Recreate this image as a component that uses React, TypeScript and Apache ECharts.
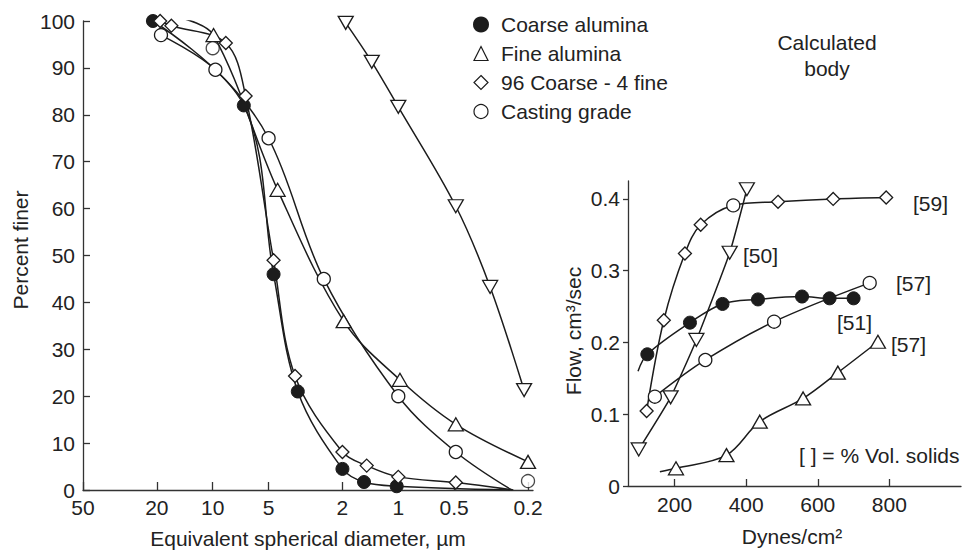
import React, { useEffect, useRef } from "react";
import * as echarts from "echarts";

// ---------- Left panel: particle size distribution ----------
const diameterTicks = [50, 20, 10, 5, 2, 1, 0.5, 0.2];
const percentTicks = [0, 10, 20, 30, 40, 50, 60, 70, 80, 90, 100];

// [diameter µm, percent finer]
const coarseAlumina = [[21, 100], [6.8, 82], [4.7, 46], [3.48, 21], [2.0, 4.5], [1.53, 1.7], [1.02, 0.8]];
const coarseAluminaEnd = [0.25, 0];
const fineAlumina = [[9.9, 97], [4.47, 64], [1.97, 36], [0.98, 23.5], [0.49, 14], [0.2, 6]];
const fineAluminaStart = [14.4, 100.5];
const mix96Coarse4Fine = [[19.2, 100], [16.7, 99], [8.5, 95.3], [6.65, 84], [4.7, 49], [3.6, 24.3], [2.0, 8.1], [1.48, 5.2], [1.0, 2.8], [0.49, 1.6]];
const mix96End = [0.24, 0];
const castingGrade = [[19, 97], [9.67, 89.6], [5.0, 75], [2.52, 45], [1.0, 20], [0.49, 8.1]];
const castingGradeEnd = [0.245, 0];
const castingGradeExtra = [[10, 94.2], [0.2, 1.9]];
const calculatedBody = [[1.92, 99.6], [1.39, 91.3], [1.0, 81.7], [0.49, 60.5], [0.32, 43.3], [0.21, 21.3]];

// ---------- Right panel: flow vs stress ----------
const flowTicks = [0, 0.1, 0.2, 0.3, 0.4];
const stressTicks = [200, 400, 600, 800];
// [dynes/cm², flow cm³/sec]
const flowMix59 = [[122, 0.1045], [170, 0.231], [229, 0.324], [273, 0.364], [364, 0.391], [489, 0.396], [643, 0.4], [791, 0.402]];
const flowMix59CircleIndex = 4;
const flowCasting57 = [[145, 0.1245], [286, 0.1756], [478, 0.229], [745, 0.283]];
const flowCoarse51 = [[124, 0.1835], [243, 0.2276], [334, 0.2537], [433, 0.26], [556, 0.264], [633, 0.2615], [700, 0.2615]];
const flowCoarse51Start = [98, 0.16];
const flowCalc50 = [[100, 0.051], [189, 0.1236], [261, 0.2035], [354, 0.325], [402, 0.4135]];
const flowFine57 = [[204, 0.0247], [345, 0.043], [438, 0.0896], [559, 0.122], [656, 0.158], [768, 0.201]];
const flowFine57Start = [159, 0.02];

const legendNames = ["Coarse alumina", "Fine alumina", "96 Coarse - 4 fine", "Casting grade"];

const INK = "#1c1c1c";
const FONT = "'Liberation Sans', Arial, Helvetica, sans-serif";
const FS = 21;

const lg = (p: number[]) => [Math.log10(p[0]), p[1]];

export default function App() {
  const ref = useRef<HTMLDivElement>(null);

  useEffect(() => {
    if (!ref.current) return;
    const chart = echarts.init(ref.current, undefined, { renderer: "svg" });

    const lineBase = {
      type: "line",
      smooth: 0.35,
      lineStyle: { color: INK, width: 1.5 },
      itemStyle: { color: "#fff", borderColor: INK, borderWidth: 1.3 },
      emphasis: { disabled: true },
      z: 3,
    };
    const noSym = (p: number[]) => ({ value: p, symbol: "none" });

    const triSize = [15, 13];
    const circSize = 13;
    const diaSize = 13;

    const series: any[] = [
      // Left panel
      {
        ...lineBase, name: legendNames[0], xAxisIndex: 0, yAxisIndex: 0,
        symbol: "circle", symbolSize: circSize,
        itemStyle: { color: INK, borderColor: INK, borderWidth: 1 },
        data: [...coarseAlumina.map(lg), noSym(lg(coarseAluminaEnd))],
      },
      {
        ...lineBase, name: legendNames[1], xAxisIndex: 0, yAxisIndex: 0,
        symbol: "triangle", symbolSize: triSize,
        data: [noSym(lg(fineAluminaStart)), ...fineAlumina.map(lg)],
      },
      {
        ...lineBase, name: legendNames[2], xAxisIndex: 0, yAxisIndex: 0,
        symbol: "diamond", symbolSize: diaSize,
        data: [...mix96Coarse4Fine.map(lg), noSym(lg(mix96End))],
      },
      {
        ...lineBase, name: legendNames[3], xAxisIndex: 0, yAxisIndex: 0,
        symbol: "circle", symbolSize: circSize,
        data: [...castingGrade.map(lg), noSym(lg(castingGradeEnd))],
      },
      {
        type: "scatter", name: legendNames[3], xAxisIndex: 0, yAxisIndex: 0,
        symbol: "circle", symbolSize: circSize,
        itemStyle: { color: "#fff", borderColor: INK, borderWidth: 1.3 },
        emphasis: { disabled: true },
        data: castingGradeExtra.map(lg), z: 4,
      },
      {
        ...lineBase, name: "Calculated body", xAxisIndex: 0, yAxisIndex: 0,
        symbol: "triangle", symbolRotate: 180, symbolSize: triSize,
        data: calculatedBody.map(lg),
      },
      // Right panel
      {
        ...lineBase, name: legendNames[2], xAxisIndex: 1, yAxisIndex: 1,
        symbol: "diamond", symbolSize: diaSize,
        data: flowMix59.map((p, i) => (i === flowMix59CircleIndex ? { value: p, symbol: "circle", symbolSize: circSize } : p)),
      },
      {
        ...lineBase, name: legendNames[3], xAxisIndex: 1, yAxisIndex: 1,
        symbol: "circle", symbolSize: circSize,
        data: flowCasting57,
      },
      {
        ...lineBase, name: legendNames[0], xAxisIndex: 1, yAxisIndex: 1,
        symbol: "circle", symbolSize: circSize,
        itemStyle: { color: INK, borderColor: INK, borderWidth: 1 },
        data: [noSym(flowCoarse51Start), ...flowCoarse51],
      },
      {
        ...lineBase, name: "Calculated body", xAxisIndex: 1, yAxisIndex: 1,
        symbol: "triangle", symbolRotate: 180, symbolSize: triSize, smooth: 0.15,
        data: flowCalc50,
      },
      {
        ...lineBase, name: legendNames[1], xAxisIndex: 1, yAxisIndex: 1,
        symbol: "triangle", symbolSize: triSize,
        data: [noSym(flowFine57Start), ...flowFine57],
      },
    ];

    const axisLine = { show: true, onZero: false, lineStyle: { color: "#333", width: 1.3 } };
    const labelStyle = { color: "#222", fontSize: FS, fontFamily: FONT };

    const text = (x: number, y: number, t: string, extra: any = {}, rotation = 0) => ({
      type: "text", x, y, rotation,
      style: { text: t, fill: "#222", font: `${FS}px ${FONT}`, ...extra },
    });

    chart.setOption({
      animation: false,
      backgroundColor: "#fff",
      textStyle: { fontFamily: FONT },
      grid: [
        { left: 83, top: 21, width: 450, height: 469, outerBoundsMode: "none", containLabel: false },
        { left: 628, top: 181, width: 333, height: 305, outerBoundsMode: "none", containLabel: false },
      ],
      xAxis: [
        {
          type: "value", gridIndex: 0, inverse: true,
          min: Math.log10(0.188), max: Math.log10(50),
          axisLine, splitLine: { show: false },
          axisTick: { show: true, inside: true, length: 8, customValues: diameterTicks.map(Math.log10), lineStyle: { color: "#333", width: 1.3 } },
          axisLabel: {
            ...labelStyle, margin: 7,
            customValues: diameterTicks.map(Math.log10),
            formatter: (v: number) => String(Number(Math.pow(10, v).toPrecision(2))),
          },
        },
        {
          type: "value", gridIndex: 1, min: 70, max: 1000,
          axisLine, splitLine: { show: false },
          axisTick: { show: true, inside: true, length: 7, customValues: stressTicks, lineStyle: { color: "#333", width: 1.3 } },
          axisLabel: { ...labelStyle, margin: 8, customValues: stressTicks },
        },
      ],
      yAxis: [
        {
          type: "value", gridIndex: 0, min: 0, max: 100,
          axisLine, splitLine: { show: false },
          axisTick: { show: true, inside: true, length: 7, customValues: percentTicks, lineStyle: { color: "#333", width: 1.3 } },
          axisLabel: { ...labelStyle, margin: 8, customValues: percentTicks },
        },
        {
          type: "value", gridIndex: 1, min: 0, max: 0.425,
          axisLine, splitLine: { show: false },
          axisTick: { show: true, inside: false, length: 5, customValues: flowTicks, lineStyle: { color: "#333", width: 1.3 } },
          axisLabel: { ...labelStyle, margin: 8, customValues: flowTicks, formatter: (v: number) => (v === 0 ? "0" : v.toFixed(1)) },
        },
      ],
      legend: {
        data: legendNames.map((n, i) => ({
          name: n,
          icon: ["circle", "triangle", "diamond", "circle"][i],
          itemStyle: i === 0 ? { color: INK, borderColor: INK } : { color: "#fff", borderColor: INK, borderWidth: 1.2 },
        })),
        orient: "vertical", left: 468, top: 9,
        itemWidth: 14, itemHeight: 14, itemGap: 8,
        selectedMode: false,
        textStyle: { color: "#222", fontSize: FS, fontFamily: FONT, lineHeight: 21, padding: [0, 0, 0, 8] },
      },
      graphic: [
        text(20, 250, "Percent finer", { align: "center", verticalAlign: "middle" }, Math.PI / 2),
        text(308, 538, "Equivalent spherical diameter, \u00b5m", { align: "center", verticalAlign: "middle" }),
        text(573, 331, "Flow, cm\u00b3/sec", { align: "center", verticalAlign: "middle" }, Math.PI / 2),
        text(792, 536, "Dynes/cm\u00b2", { align: "center", verticalAlign: "middle" }),
        text(827, 55, "Calculated\nbody", { align: "center", verticalAlign: "middle", lineHeight: 26 }),
        text(799, 455, "[ ] = % Vol. solids", { verticalAlign: "middle" }),
        text(913, 203, "[59]", { verticalAlign: "middle" }),
        text(743, 255, "[50]", { verticalAlign: "middle" }),
        text(896, 283, "[57]", { verticalAlign: "middle" }),
        text(837, 322, "[51]", { verticalAlign: "middle" }),
        text(891, 344, "[57]", { verticalAlign: "middle" }),
      ],
      series,
    });

    return () => chart.dispose();
  }, []);

  return <div ref={ref} style={{ width: 963, height: 552, position: "absolute", left: 0, top: 0 }} />;
}
